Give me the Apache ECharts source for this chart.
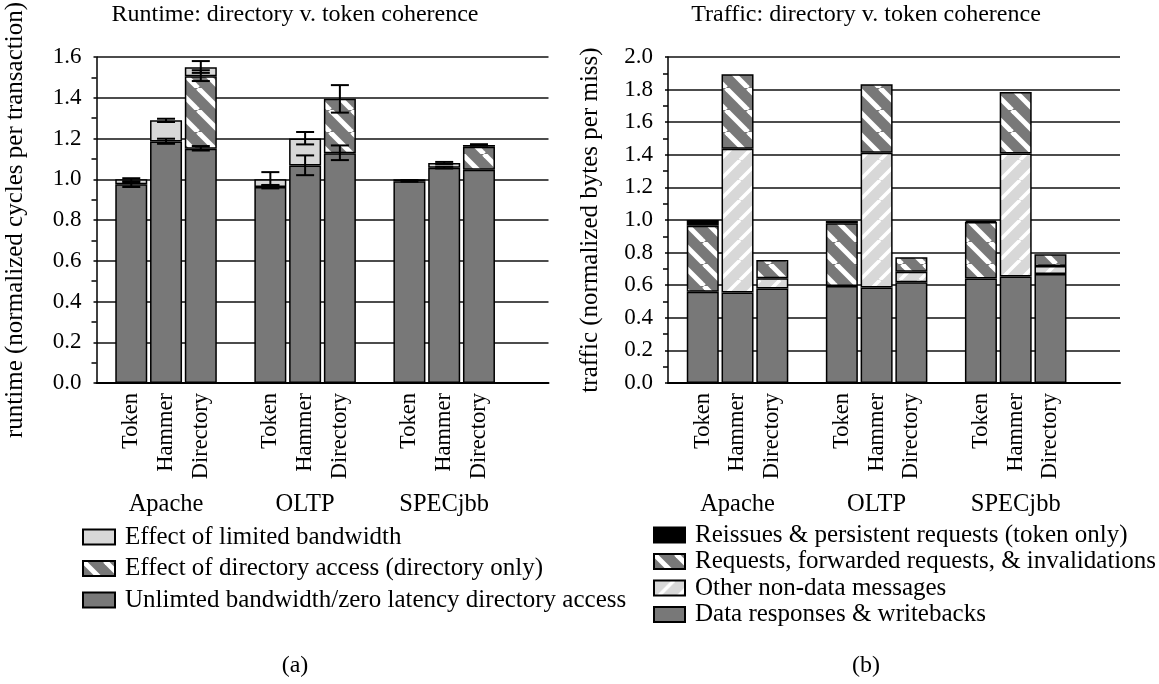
<!DOCTYPE html>
<html><head><meta charset="utf-8">
<script src="https://cdn.jsdelivr.net/npm/echarts@6/dist/echarts.min.js"></script>
<style>html,body{margin:0;padding:0;background:#fff}#c{width:1159px;height:684px}</style>
</head><body><div id="c"></div>
<script>
// ---------- data ----------
const groups = ['Apache', 'OLTP', 'SPECjbb'];
const protocols = ['Token', 'Hammer', 'Directory'];
// bar order: Apache T,H,D | OLTP T,H,D | SPECjbb T,H,D  (stack increments)
const runtimeUnlimited = [0.975, 1.185, 1.150, 0.962, 1.068, 1.128, 0.990, 1.057, 1.047];
const runtimeDirAccess = [null, null, 0.355, null, null, 0.267, null, null, 0.113];
const runtimeBandwidth = [0.025, 0.105, 0.045, 0.038, 0.132, null, 0.010, 0.023, 0.008];
// [bar index, low, high]
const runtimeErrors = [
  [0, 0.962, 0.985], [0, 0.990, 1.005],
  [1, 1.174, 1.199], [1, 1.281, 1.297],
  [2, 1.141, 1.163], [2, 1.482, 1.535], [2, 1.522, 1.580],
  [3, 0.955, 0.972], [3, 0.970, 1.035],
  [4, 1.020, 1.117], [4, 1.171, 1.232],
  [5, 1.094, 1.166], [5, 1.327, 1.462],
  [6, 0.988, 0.996],
  [7, 1.053, 1.062], [7, 1.075, 1.085],
  [8, 1.165, 1.172]
];
const trafficData     = [0.560, 0.555, 0.579, 0.595, 0.586, 0.618, 0.641, 0.653, 0.669];
const trafficOther    = [null, 0.882, 0.064, null, 0.826, 0.064, null, 0.755, 0.049];
const trafficRequests = [0.405, 0.457, 0.112, 0.385, 0.421, 0.090, 0.347, 0.378, 0.072];
const trafficReissues = [0.035, null, null, 0.014, null, null, 0.008, null, null];

const runtimeNames = ['Effect of limited bandwidth', 'Effect of directory access (directory only)', 'Unlimted bandwidth/zero latency directory access'];
const trafficNames = ['Reissues & persistent requests (token only)', 'Requests, forwarded requests, & invalidations', 'Other non-data messages', 'Data responses & writebacks'];

// ---------- layout helpers ----------
const NSLOT = 14;
function slotOf(i) { return 1 + Math.floor(i / 3) * 4 + (i % 3); }
function toSlots(arr) { const o = new Array(NSLOT).fill(null); arr.forEach((v, i) => { o[slotOf(i)] = v; }); return o; }
const slotLabels = new Array(NSLOT).fill('');
groups.forEach((g, gi) => protocols.forEach((p, pi) => { slotLabels[slotOf(gi * 3 + pi)] = p; }));
const groupLabels = new Array(NSLOT).fill('');
groups.forEach((g, gi) => { groupLabels[slotOf(gi * 3 + 1)] = g; });

const FONT = 'Liberation Serif, Times New Roman, serif';
const DARK = '#787878', LIGHT = '#d8d8d8';
function stripes(bg, fg, dir, T, lw) {
  const c = document.createElement('canvas'); c.width = c.height = T;
  const g = c.getContext('2d');
  g.fillStyle = bg; g.fillRect(0, 0, T, T);
  g.strokeStyle = fg; g.lineWidth = lw;
  for (const o of [-T, 0, T]) {
    g.beginPath();
    if (dir === 'back') { g.moveTo(o, 0); g.lineTo(o + T, T); }
    else { g.moveTo(o, T); g.lineTo(o + T, 0); }
    g.stroke();
  }
  return { image: c, repeat: 'repeat' };
}
const HATCH_DARK = stripes(DARK, '#ffffff', 'back', 22, 5);
const HATCH_LIGHT = stripes(LIGHT, '#ffffff', 'fwd', 20, 3.5);

function txt(size) { return { fontFamily: FONT, fontSize: size, color: '#000' }; }
const border = { borderColor: '#000', borderWidth: 1.5 };

function xAxesFor(gi) {
  return [
    { gridIndex: gi, type: 'category', data: slotLabels, boundaryGap: false,
      axisLine: { show: true, onZero: false, lineStyle: { color: '#000', width: 2 } },
      axisTick: { show: false }, splitLine: { show: false },
      axisLabel: Object.assign({ rotate: 90, interval: 0, margin: 10 }, txt(22.5)) },
    { gridIndex: gi, type: 'category', data: groupLabels, boundaryGap: false, position: 'bottom', offset: 122,
      axisLine: { show: false }, axisTick: { show: false }, splitLine: { show: false },
      axisLabel: Object.assign({ interval: 0, margin: 0, verticalAlign: 'middle' }, txt(24.5)) }
  ];
}
function yAxisFor(gi, max, name, gap) {
  return { gridIndex: gi, type: 'value', min: 0, max: max, interval: 0.2,
    axisLine: { show: true, lineStyle: { color: '#000', width: 1.5 } },
    axisTick: { show: true, length: 3, lineStyle: { color: '#000', width: 1.5 } },
    minorTick: { show: true, splitNumber: 2, length: 5, lineStyle: { color: '#000', width: 1.5 } },
    splitLine: { show: true, lineStyle: { color: '#111', width: 1.5 } },
    axisLabel: Object.assign({ margin: 15, formatter: v => v.toFixed(1) }, txt(23)),
    name: name, nameLocation: 'middle', nameGap: gap, nameTextStyle: txt(25) };
}
function errRender(params, api) {
  const x = api.value(0);
  const p1 = api.coord([x, api.value(1)]);
  const p2 = api.coord([x, api.value(2)]);
  const hw = 9, st = { stroke: '#000', lineWidth: 2 };
  return { type: 'group', children: [
    { type: 'line', shape: { x1: p1[0], y1: p1[1], x2: p2[0], y2: p2[1] }, style: st },
    { type: 'line', shape: { x1: p1[0] - hw, y1: p1[1], x2: p1[0] + hw, y2: p1[1] }, style: st },
    { type: 'line', shape: { x1: p2[0] - hw, y1: p2[1], x2: p2[0] + hw, y2: p2[1] }, style: st }
  ] };
}
function bar(name, stack, xi, yi, data, color) {
  return { name: name, type: 'bar', stack: stack, xAxisIndex: xi, yAxisIndex: yi, barWidth: 32,
    data: toSlots(data), itemStyle: Object.assign({ color: color }, border),
    emphasis: { disabled: true }, animation: false };
}
function ttl(text, x, y, size) {
  return { text: text, left: x, top: y, textAlign: 'center', padding: 0,
    textStyle: Object.assign({ fontWeight: 'normal' }, txt(size)) };
}

const chart = echarts.init(document.getElementById('c'), null, { renderer: 'canvas' });
chart.setOption({
  animation: false,
  backgroundColor: '#fff',
  title: [
    ttl('Runtime: directory v. token coherence', 295, 3, 24),
    ttl('Traffic: directory v. token coherence', 866, 3, 24),
    ttl('(a)', 295, 654, 24),
    ttl('(b)', 866, 654, 24)
  ],
  grid: [
    { left: 96.5, top: 57, width: 452, height: 326, outerBoundsMode: 'none', containLabel: false },
    { left: 668, top: 57, width: 452, height: 326, outerBoundsMode: 'none', containLabel: false }
  ],
  legend: [
    { data: runtimeNames, orient: 'vertical', left: 82, top: 524.5, itemWidth: 32, itemHeight: 15, itemGap: 6.5,
      icon: 'rect', selectedMode: false, padding: 0,
      textStyle: Object.assign({ lineHeight: 25, padding: [0, 0, 0, 5] }, txt(25)) },
    { data: trafficNames, orient: 'vertical', left: 653, top: 522.5, itemWidth: 31, itemHeight: 15, itemGap: 1.5,
      icon: 'rect', selectedMode: false, padding: 0,
      textStyle: Object.assign({ lineHeight: 25, padding: [0, 0, 0, 5] }, txt(25)) }
  ],
  xAxis: xAxesFor(0).concat(xAxesFor(1)),
  yAxis: [
    yAxisFor(0, 1.6, 'runtime (normalized cycles per transaction)', 69),
    yAxisFor(1, 2.0, 'traffic (normalized bytes per miss)', 65.5)
  ],
  series: [
    bar(runtimeNames[2], 'rt', 0, 0, runtimeUnlimited, DARK),
    bar(runtimeNames[1], 'rt', 0, 0, runtimeDirAccess, HATCH_DARK),
    bar(runtimeNames[0], 'rt', 0, 0, runtimeBandwidth, LIGHT),
    { type: 'custom', xAxisIndex: 0, yAxisIndex: 0, z: 10, clip: false, animation: false,
      data: runtimeErrors.map(e => [slotOf(e[0]), e[1], e[2]]),
      encode: { x: 0, y: [1, 2] }, renderItem: errRender, silent: true },
    bar(trafficNames[3], 'tr', 2, 1, trafficData, DARK),
    bar(trafficNames[2], 'tr', 2, 1, trafficOther, HATCH_LIGHT),
    bar(trafficNames[1], 'tr', 2, 1, trafficRequests, HATCH_DARK),
    bar(trafficNames[0], 'tr', 2, 1, trafficReissues, '#000')
  ]
});
</script></body></html>
